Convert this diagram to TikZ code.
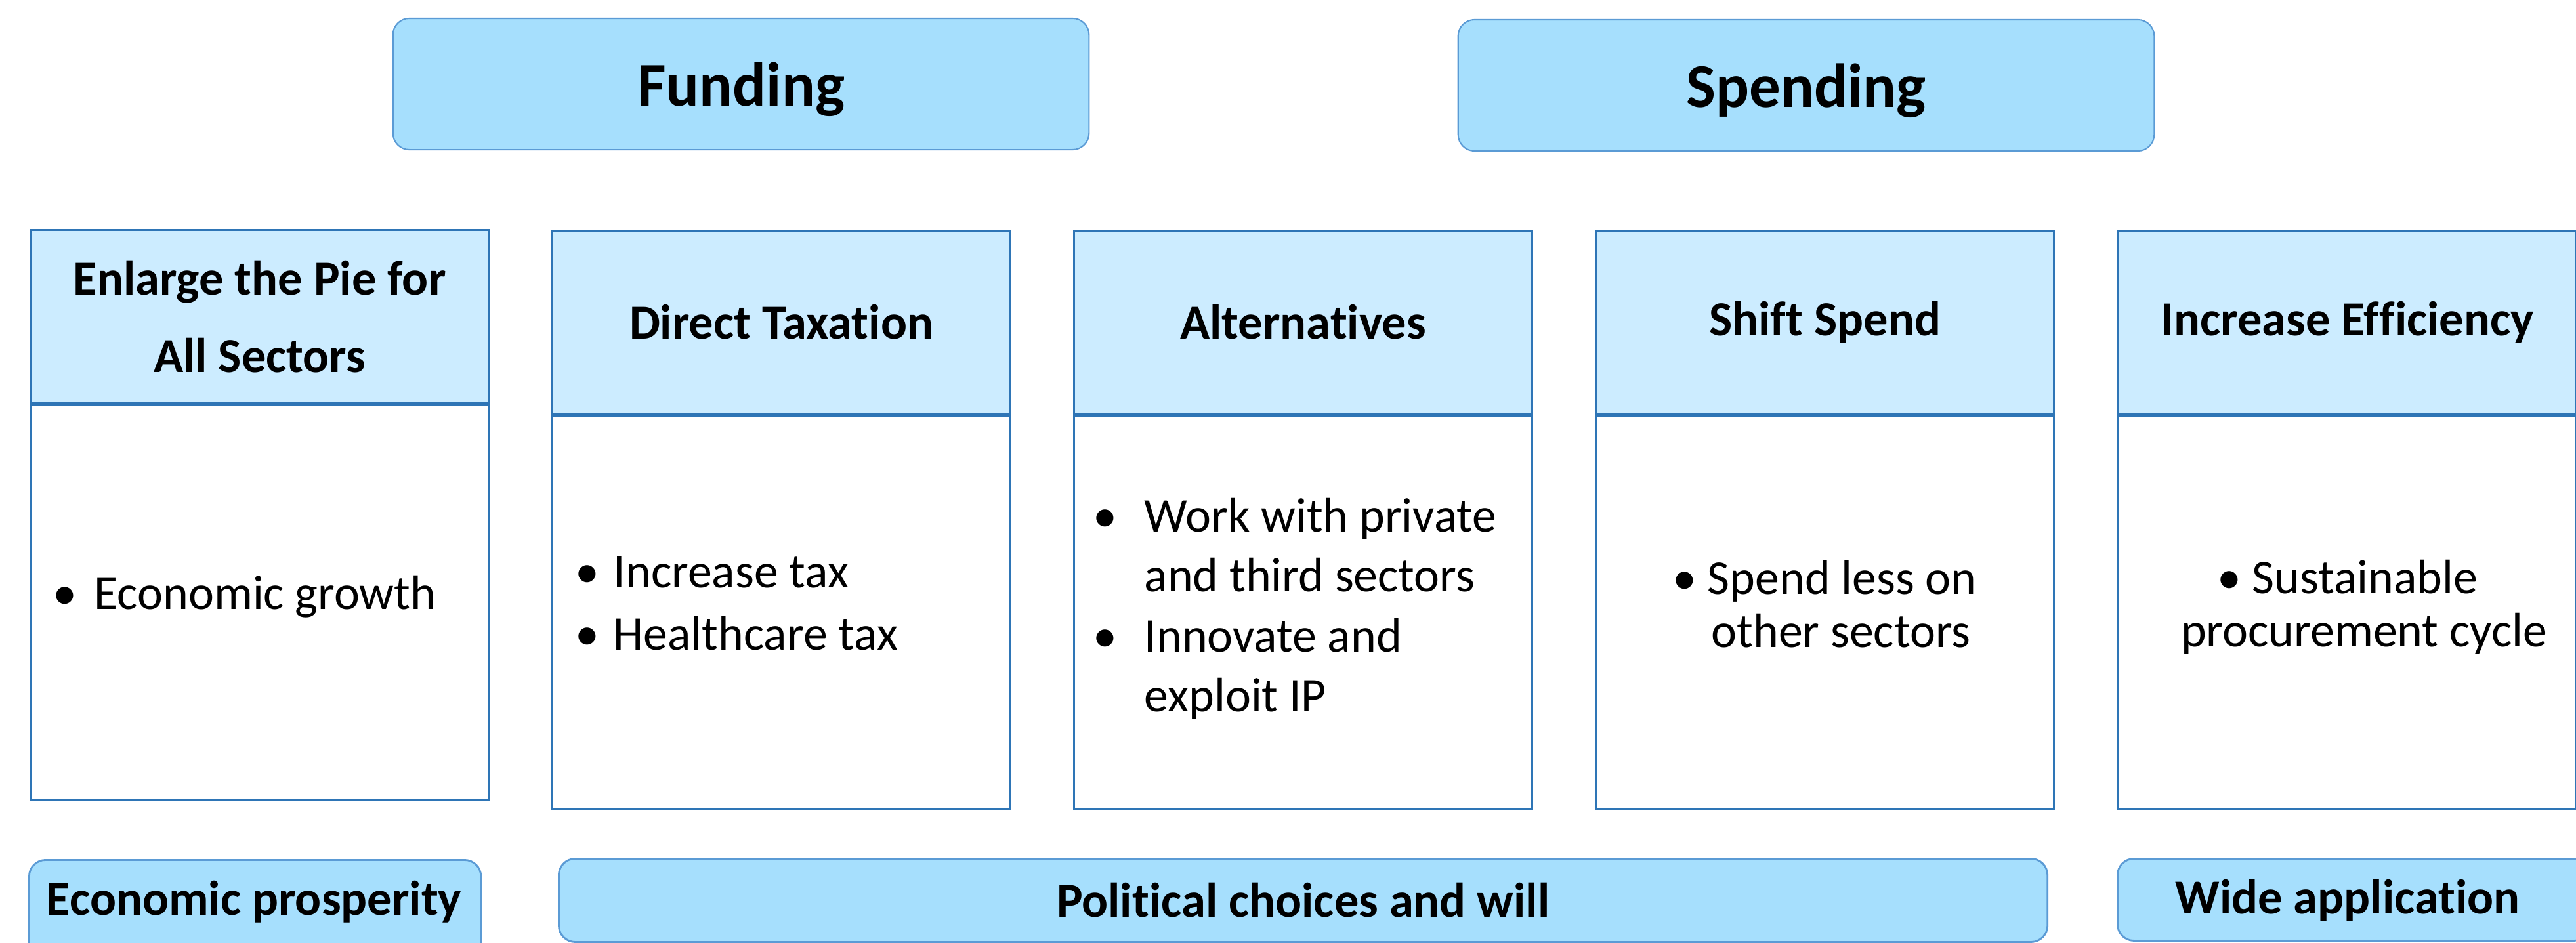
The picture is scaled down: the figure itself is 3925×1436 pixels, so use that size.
\documentclass[tikz,border=0pt]{standalone}
\usepackage{fontspec}
\setmainfont{Carlito}[Ligatures=NoCommon]
\usetikzlibrary{positioning}

\definecolor{topfill}{RGB}{166,223,253}
\definecolor{headfill}{RGB}{204,236,255}
\definecolor{edgeblue}{RGB}{46,117,182}
\definecolor{baredge}{RGB}{91,155,213}

\newcommand{\bul}[1]{\makebox[#1][l]{\textbullet}}

\begin{document}
\begin{tikzpicture}[
    x=0.01cm, y=-0.01cm,
    topbox/.style={draw=baredge, fill=topfill, rounded corners=0.25cm, line width=0.6pt,
        minimum width=10.6cm, minimum height=2cm, text depth=0pt,
        font=\bfseries\fontsize{27}{32}\selectfont},
    headbox/.style={draw=edgeblue, fill=headfill, line width=0.8pt, anchor=north west,
        minimum width=6.98cm, align=center, font=\bfseries\fontsize{21.2}{33.5}\selectfont},
    bodybox/.style={draw=edgeblue, fill=white, line width=0.8pt, minimum width=6.98cm,
        below=0pt of #1},
    bodytext/.style={inner sep=0pt, anchor=west, align=left, font=\fontsize{21}{27}\selectfont},
    bartext/.style={font=\bfseries\fontsize{21.2}{24}\selectfont},
    barbox/.style={draw=baredge, fill=topfill, rounded corners=0.25cm, line width=0.8pt,
        anchor=north west, bartext}
]
\clip (0,0) rectangle (3925,1436);

% top headings
\node[topbox] (funding) at (1129,128) {Funding};
\node[topbox] (spending) at (2752,130) {Spending};

% column headers
\node[headbox, minimum height=2.64cm] (hdpie) at (45,349) {Enlarge the Pie for\\All Sectors};
\node[headbox, minimum height=2.79cm] (hdtax) at (840,350) {Direct Taxation};
\node[headbox, minimum height=2.79cm] (hdalt) at (1635,350) {Alternatives};
\node[headbox, minimum height=2.79cm] (hdshift) at (2430,350) {Shift Spend};
\node[headbox, minimum height=2.79cm] (hdeff) at (3226,350) {Increase Efficiency};

% column bodies
\node[bodybox=hdpie, minimum height=6.01cm] (bdpie) {};
\node[bodybox=hdtax, minimum height=5.99cm] (bdtax) {};
\node[bodybox=hdalt, minimum height=5.99cm] (bdalt) {};
\node[bodybox=hdshift, minimum height=5.99cm] (bdshift) {};
\node[bodybox=hdeff, minimum height=5.99cm] (bdeff) {};

% bullet texts
\node[bodytext] (txpie) at (80,909) {\bul{0.63cm}Economic growth};
\node[bodytext, font=\fontsize{21}{27}\selectfont] (txtax) at (876,920)
    {\bul{0.58cm}Increase tax\\ \bul{0.58cm}Healthcare tax};
\node[bodytext, font=\fontsize{21}{26}\selectfont] (txalt) at (1665,928)
    {\bul{0.78cm}Work with private\\ \hspace*{0.78cm}and third sectors\\
     \bul{0.78cm}Innovate and\\ \hspace*{0.78cm}exploit IP};
\node[bodytext, anchor=center, align=center, font=\fontsize{21}{23}\selectfont] (txshift) at (2780,921)
    {\textbullet\ Spend less on\\ \hspace*{0.5cm}other sectors};
\node[bodytext, anchor=center, align=center, font=\fontsize{21}{23}\selectfont] (txeff) at (3577,925)
    {\textbullet\ Sustainable\\ \hspace*{0.5cm}procurement cycle};

% bottom bars
\node[barbox, minimum width=6.88cm, minimum height=1.8cm] (barpros) at (43,1309) {};
\node[bartext] (txpros) at (387,1374) {Economic prosperity};
\node[barbox, minimum width=22.67cm, minimum height=1.27cm] (barpol) at (850,1307) {Political choices and will};
\node[barbox, minimum width=7.2cm, minimum height=1.25cm] (barwide) at (3225,1307) {};
\node[bartext] (txwide) at (3577,1372) {Wide application};
\end{tikzpicture}
\end{document}
